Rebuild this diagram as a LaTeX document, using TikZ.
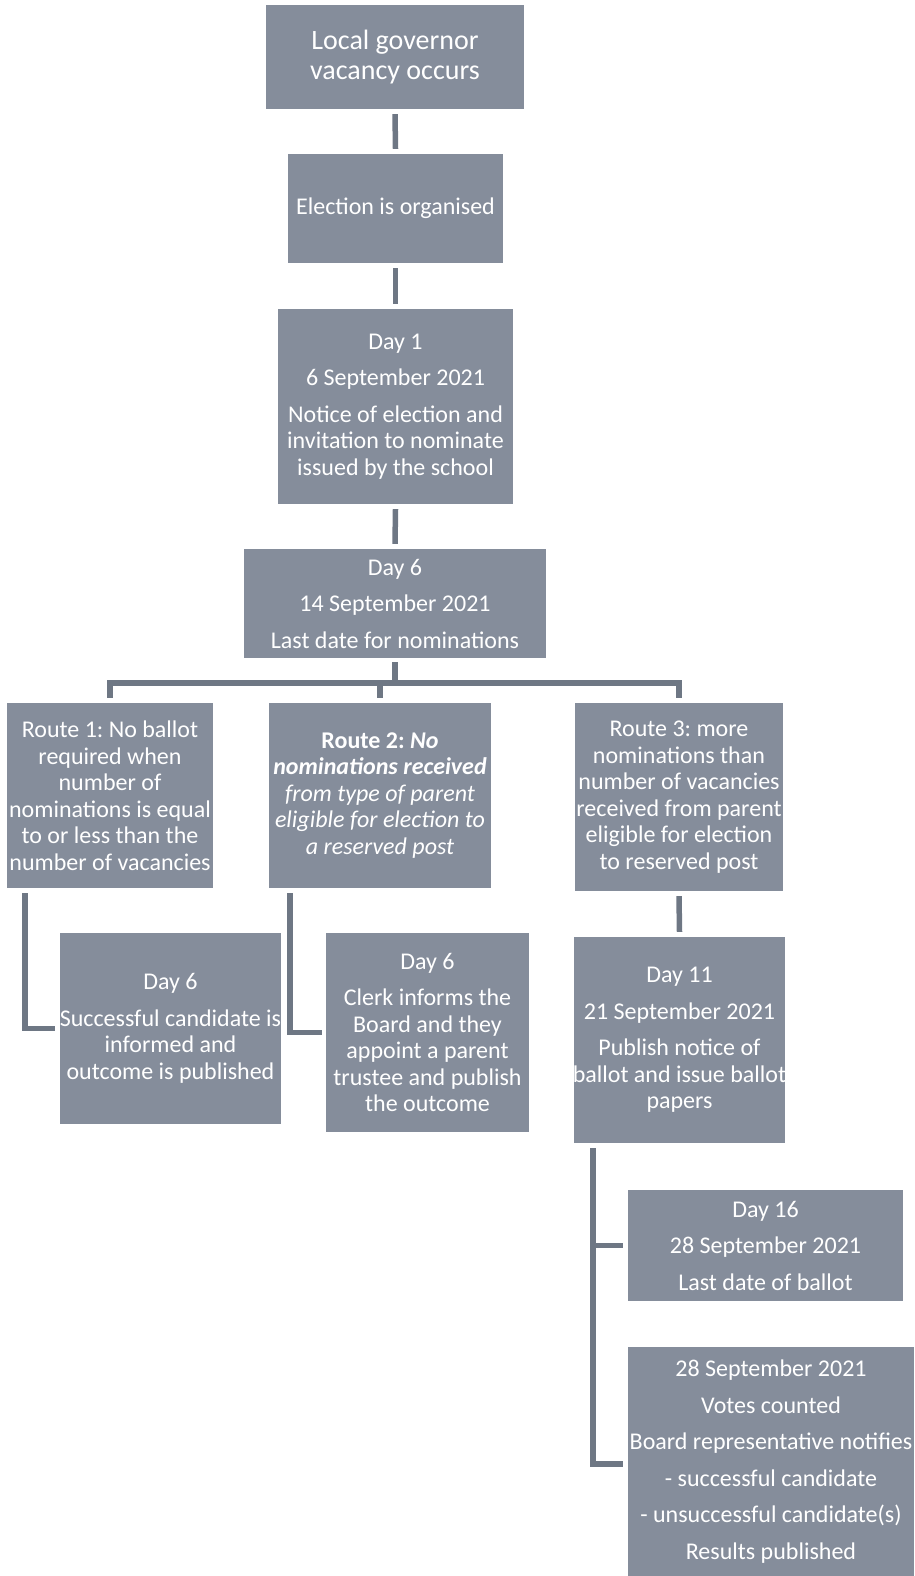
\documentclass[tikz,border=0pt]{standalone}
\usepackage{fontspec}
\setmainfont{Carlito}
\definecolor{boxgray}{HTML}{858D9B}
\definecolor{linkgray}{HTML}{6E7784}
\frenchspacing
\begin{document}
\begin{tikzpicture}[
  x=1pt, y=-1pt,
  box/.style={rectangle, fill=boxgray, text=white, inner xsep=0pt, inner ysep=1pt, align=center,
    font=\fontsize{24}{26.5}\selectfont},
  link/.style={draw=linkgray, line width=5.5pt}
]
  \useasboundingbox (0,0) rectangle (914,1576);

  % Cajas
  \node[box, font=\fontsize{28}{30.5}\selectfont, minimum width=258pt, minimum height=104pt] (vacancy) at (395,57)
    {Local governor\\vacancy occurs};
  \node[box, minimum width=215pt, minimum height=109pt] (organised) at (395.5,208.5)
    {Election is organised};
  \node[box, minimum width=235pt, minimum height=195pt] (day1) at (395.5,406.5)
    {Day 1\\[10pt]6 September 2021\\[10pt]Notice of election and\\invitation to nominate\\issued by the school};
  \node[box, minimum width=302pt, minimum height=109pt] (day6) at (395,603.5)
    {Day 6\\[10pt]14 September 2021\\[10pt]Last date for nominations};

  % Rutas
  \node[box, minimum width=206pt, minimum height=185pt] (route1) at (110,795.5)
    {Route 1: No ballot\\required when\\number of\\\makebox[190pt]{nominations is equal}\\to or less than the\\\makebox[190pt]{number of vacancies}};
  \node[box, minimum width=222pt, minimum height=185pt] (route2) at (380,795.5)
    {\textbf{Route 2: \textit{No}}\\\textbf{\textit{nominations received}}\\\textit{from type of parent}\\\textit{eligible for election to}\\\textit{a reserved post}};
  \node[box, minimum width=208pt, minimum height=188pt] (route3) at (679,797)
    {Route 3: more\\nominations than\\\makebox[190pt]{number of vacancies}\\\makebox[190pt]{received from parent}\\eligible for election\\to reserved post};

  % Resultados
  \node[box, minimum width=221pt, minimum height=191pt] (out1) at (170.5,1028.5)
    {Day 6\\[10pt]\makebox[200pt]{Successful candidate is}\\informed and\\outcome is published};
  \node[box, minimum width=203pt, minimum height=199pt] (out2) at (427.5,1032.5)
    {Day 6\\[10pt]Clerk informs the\\Board and they\\appoint a parent\\trustee and publish\\the outcome};
  \node[box, minimum width=211pt, minimum height=206pt] (day11) at (679.5,1040)
    {Day 11\\[10pt]21 September 2021\\[10pt]Publish notice of\\\makebox[190pt]{ballot and issue ballot}\\papers};
  \node[box, minimum width=275pt, minimum height=111pt] (day16) at (765.5,1245.5)
    {Day 16\\[10pt]28 September 2021\\[10pt]Last date of ballot};
  \node[box, minimum width=286pt, minimum height=229pt] (counted) at (771,1461.5)
    {28 September 2021\\[10pt]Votes counted\\[10pt]\makebox[270pt]{Board representative notifies}\\[10pt]- successful candidate\\[10pt]- unsuccessful candidate(s)\\[10pt]Results published};

  % Conectores
  \coordinate (bar) at (395,683);
  \draw[link] ([yshift=-5pt]vacancy.south) -- ([yshift=5pt]organised.north);
  \draw[link] ([yshift=-5pt]organised.south) -- ([yshift=5pt]day1.north);
  \draw[link] ([yshift=-5pt]day1.south) -- ([yshift=5pt]day6.north);
  \draw[link] ([yshift=-4pt]day6.south) -- (day6.south |- bar);
  \draw[link] ([yshift=5pt]route1.north) |- (route3.north |- bar) -- ([yshift=5pt]route3.north);
  \draw[link] ([yshift=5pt]route2.north) -- (route2.north |- bar);
  \draw[link] ([xshift=18pt,yshift=-5pt]route1.south west) |- ([xshift=-5pt]out1.west);
  \draw[link] ([xshift=21pt,yshift=-5pt]route2.south west) |- ([xshift=-4pt]out2.west);
  \draw[link] ([yshift=-5pt]route3.south) -- ([yshift=5pt]day11.north);
  \coordinate (fork) at ([xshift=19pt,yshift=-5pt]day11.south west);
  \draw[link] (fork) |- ([xshift=-5pt,yshift=-2.5pt]counted.west);
  \draw[link] (fork |- day16.west) -- ([xshift=-5pt]day16.west);
\end{tikzpicture}
\end{document}
